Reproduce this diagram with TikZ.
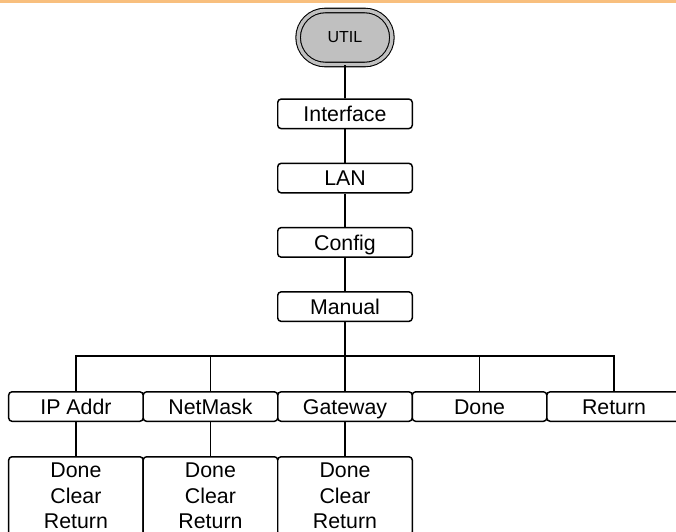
\documentclass[tikz,border=0pt]{standalone}
\usepackage{fontspec}
\setmainfont{Liberation Sans}
\usetikzlibrary{positioning,shapes.misc}
\definecolor{topbar}{HTML}{F8BF7E}
\definecolor{keygray}{HTML}{C0C0C0}
\begin{document}
\begin{tikzpicture}[x=0.75pt,y=-0.75pt,node distance=25pt,
box/.style={draw=black,line width=1.1pt,rounded corners=2.5pt,fill=white,align=center,
font=\fontsize{16}{19}\selectfont,minimum width=100.9pt,minimum height=22.1pt,inner sep=0pt},
onebox/.style={box,text height=11.5pt,text depth=0pt},
subbox/.style={box,minimum height=58.9pt},
key/.style={rounded rectangle,draw=black,line width=0.8pt,double=keygray,double distance=2.6pt,
fill=keygray,minimum width=77pt,minimum height=40.5pt,font=\fontsize{12}{14}\selectfont},
wire/.style={line width=1.2pt}]
\useasboundingbox (0,0) rectangle (676,532);
\fill[topbar] (0,0) rectangle (676,2.5);
% menu chain
\node[key] (util) at (345,37.5) {UTIL};
\node[onebox,below=of util] (iface) {Interface};
\node[onebox,below=of iface] (lan) {LAN};
\node[onebox,below=of lan] (cfg) {Config};
\node[onebox,below=of cfg] (manual) {Manual};
\coordinate[below=25.5pt of manual] (bus);
% soft keys
\node[onebox,below=51.75pt of manual] (gw) {Gateway};
\node[onebox,left=-1.1pt of gw] (nm) {NetMask};
\node[onebox,left=-1.1pt of nm] (ip) {IP Addr};
\node[onebox,right=-1.1pt of gw] (dn) {Done};
\node[onebox,right=-1.1pt of dn] (ret) {Return};
\node[subbox,below=25.5pt of ip] (ipsub) {Done\\Clear\\Return};
\node[subbox,below=25.5pt of nm] (nmsub) {Done\\Clear\\Return};
\node[subbox,below=25.5pt of gw] (gwsub) {Done\\Clear\\Return};
\draw[wire] (util)--(iface);\draw[wire] (iface)--(lan);\draw[wire] (lan)--(cfg);
\draw[wire] (cfg)--(manual);\draw[wire] (manual)--(gw);
\draw[wire] (ip.north) |- (bus) -| (ret.north);
\draw[wire] (nm.north)--(nm.north |- bus);\draw[wire] (dn.north)--(dn.north |- bus);
\draw[wire] (ip)--(ipsub);\draw[wire] (nm)--(nmsub);\draw[wire] (gw)--(gwsub);
\end{tikzpicture}
\end{document}
